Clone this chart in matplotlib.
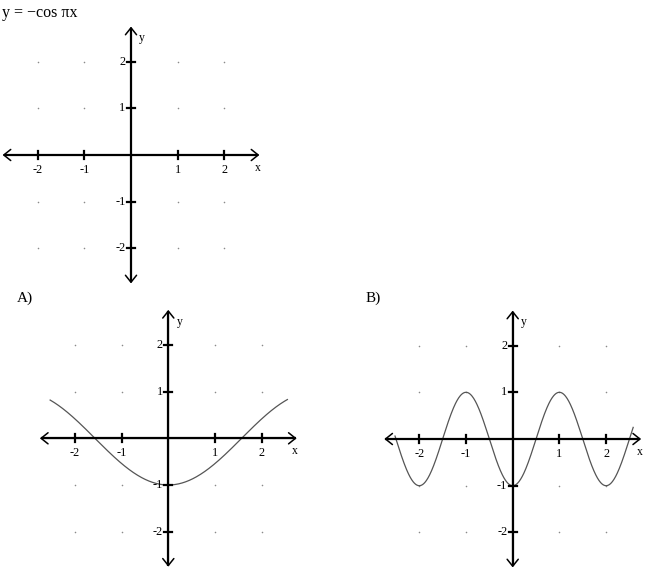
import numpy as np
import matplotlib
matplotlib.use("Agg")
import matplotlib.pyplot as plt

plt.rcParams['font.family'] = ['Liberation Serif', 'DejaVu Serif']

W, H = 650, 585

# ---- data ----
title = "y = \u2212cos \u03c0x"
panel_labels = ["A)", "B)"]
x_ticks = [-2, -1, 1, 2]
y_ticks = [-2, -1, 1, 2]
x_tick_labels = ["-2", "-1", "1", "2"]
y_tick_labels = ["-2", "-1", "1", "2"]
grid_x = [-2, -1, 1, 2]
grid_y = [-2, -1, 1, 2]
axis_extent = 2.75

# curve definitions (function graphs)
curveA_range = (-2.53, 2.55)
curveB_range = (-2.52, 2.58)
def curveA(x):
    return -np.cos(x)
def curveB(x):
    return -np.cos(np.pi * x)

fig = plt.figure(figsize=(W / 100, H / 100), dpi=100)


def make_axes(origin, unit, box):
    ox, oy = origin
    x0, y0, x1, y1 = box
    ax = fig.add_axes([x0 / W, 1 - y1 / H, (x1 - x0) / W, (y1 - y0) / H])
    ax.set_xlim((x0 - ox) / unit, (x1 - ox) / unit)
    ax.set_ylim((oy - y1) / unit, (oy - y0) / unit)
    ax.axis('off')
    return ax, unit


def draw_frame(ax, unit):
    px = 1.0 / unit
    e = axis_extent
    # grid dots
    gx, gy = np.meshgrid(grid_x, grid_y)
    ax.scatter(gx.ravel(), gy.ravel(), s=1.3, color='#8a8a8a', lw=0, zorder=1)
    # axis lines
    ax.plot([-e + 1 * px, e - 1 * px], [0, 0], color='black', lw=1.6, zorder=3,
            solid_capstyle='butt')
    ax.plot([0, 0], [-e + 1 * px, e - 1 * px], color='black', lw=1.6, zorder=3,
            solid_capstyle='butt')
    # arrow heads
    ap = dict(arrowstyle='<->,head_length=0.5,head_width=0.4', lw=1.1,
              color='black', mutation_scale=10, shrinkA=0, shrinkB=0)
    ax.annotate('', xy=(e, 0), xytext=(-e, 0), arrowprops=ap)
    ax.annotate('', xy=(0, e), xytext=(0, -e), arrowprops=ap)
    # ticks
    for t, lab in zip(x_ticks, x_tick_labels):
        ax.plot([t, t], [-4 * px, 4 * px], color='black', lw=1.6, zorder=3)
        ax.text(t, -15 * px, lab, ha='center', va='center', fontsize=8.8)
    for t, lab in zip(y_ticks, y_tick_labels):
        ax.plot([-4 * px, 4 * px], [t, t], color='black', lw=1.6, zorder=3)
        ax.text(-5.5 * px, t, lab, ha='right', va='center', fontsize=8.8)
    ax.text(11 * px, 2.5, 'y', ha='center', va='center', fontsize=8.5)
    ax.text(2.72, -13 * px, 'x', ha='center', va='center', fontsize=8.5)


# top reference axes
ax0, u0 = make_axes((131, 155), 46.7, (0, 20, 275, 295))
draw_frame(ax0, u0)

# panel A
axA, uA = make_axes((168.3, 438.3), 46.7, (0, 300, 330, 585))
draw_frame(axA, uA)
xa = np.linspace(curveA_range[0], curveA_range[1], 400)
axA.plot(xa, curveA(xa), color='#555555', lw=0.9, zorder=2)

# panel B
axB, uB = make_axes((512.7, 439), 46.7, (340, 300, 650, 585))
draw_frame(axB, uB)
xb = np.linspace(curveB_range[0], curveB_range[1], 600)
axB.plot(xb, curveB(xb), color='#555555', lw=0.9, zorder=2)

fig.text(2 / W, 1 - 13 / H, title, ha='left', va='center', fontsize=11.5)
fig.text(17 / W, 1 - 298 / H, panel_labels[0], ha='left', va='center', fontsize=11)
fig.text(366 / W, 1 - 298 / H, panel_labels[1], ha='left', va='center', fontsize=11)

fig.savefig('out.png', dpi=100)
